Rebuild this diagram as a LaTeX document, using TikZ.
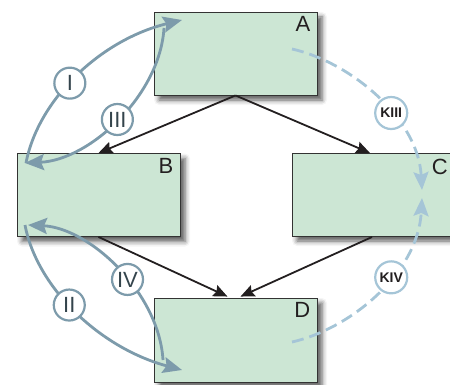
\documentclass[tikz,border=0pt]{standalone}
\usepackage{fontspec}
\setmainfont{Liberation Sans}
\usetikzlibrary{arrows.meta,shadows.blur,calc}
\definecolor{boxfill}{HTML}{CCE6D4}
\definecolor{boxline}{HTML}{333333}
\definecolor{flow}{HTML}{7D9BAB}
\definecolor{kflow}{HTML}{A5C5D7}
\definecolor{ink}{HTML}{231F20}
\definecolor{numeral}{HTML}{34444C}

\begin{document}
\begin{tikzpicture}[x=1pt,y=-1pt,
  stage/.style={draw=boxline, line width=0.9pt, fill=boxfill,
    minimum width=163pt, minimum height=83pt, inner sep=0pt,
    blur shadow={shadow xshift=5pt, shadow yshift=-5pt,
      shadow blur radius=5pt, shadow opacity=65}},
  tag/.style={font=\fontsize{22}{22}\selectfont, text=ink,
    anchor=north east, inner sep=0pt},
  main/.style={draw=ink, line width=1.8pt,
    -{Stealth[length=14pt,width=12pt,inset=2pt]}},
  cycle/.style={draw=flow, line width=2.8pt,
    -{Stealth[length=19pt,width=16pt,inset=3pt]}},
  kcycle/.style={draw=kflow, line width=2.8pt, dash pattern=on 12pt off 6pt,
    -{Stealth[length=18pt,width=15pt,inset=3pt]}},
  ring/.style={circle, draw=flow, line width=2.2pt, fill=white, solid,
    minimum size=31pt, inner sep=0pt, text=numeral,
    font=\fontsize{22}{22}\selectfont},
  kring/.style={circle, draw=kflow, line width=2.2pt, fill=white, solid,
    minimum size=32pt, inner sep=0pt, text=ink,
    font=\bfseries\fontsize{14}{14}\selectfont},
]
\useasboundingbox (0,0) rectangle (450,385);
\clip (0,0) rectangle (450,385);

% the four boxes
\node[stage] (A) at (235.5,53.5) {};
\node[stage] (B) at (98.5,195) {};
\node[stage, minimum width=170pt] (C) at (377,194.5) {};
\node[stage, minimum height=84pt] (D) at (235.5,340) {};

\node[tag] (At) at ($(A.north east)+(-7,5)$) {A};
\node[tag] (Bt) at ($(B.north east)+(-7,5)$) {B};
\node[tag] (Ct) at (448,159) {C};
\node[tag] (Dt) at ($(D.north east)+(-7,5)$) {D};

% main flow
\coordinate (d1) at ($(D.north)+(-8,-1)$);
\coordinate (d2) at ($(D.north)+(5,-1)$);
\coordinate (c1) at (372,237);
\coordinate (c0) at (370,153);
\draw[main] (A.south) -- (B.north);
\draw[main] (A.south) -- (c0);
\draw[main] (B.south) -- (d1);
\draw[main] (c1) -- (d2);

% cycles between the boxes
\coordinate (bI) at (26,163);
\coordinate (aI) at (182,20);
\coordinate (aIII) at (164,28);
\coordinate (bIII) at (25,163);
\coordinate (bII) at (25,225);
\coordinate (dII) at (182,370);
\coordinate (dIV) at (163,360);
\coordinate (bIV) at (28,225);

\draw[cycle] (bI) .. controls (38,100) and (100,40) .. (aI)
  node[ring, pos=0.45] (nI) {I};
\draw[cycle] (aIII) .. controls (160,95) and (90,160) .. (bIII)
  node[ring, pos=0.5] (nIII) {III};
\draw[cycle] (bII) .. controls (37,288) and (100,348) .. (dII)
  node[ring, pos=0.45] (nII) {II};
\draw[cycle] (dIV) .. controls (159,293) and (90,228) .. (bIV)
  node[ring, pos=0.43] (nIV) {IV};

% dashed side paths to C
\coordinate (aK) at (292,49);
\coordinate (cK3) at (422,190);
\coordinate (dK) at (292,342);
\coordinate (cK4) at (422,198);
\draw[kcycle] (aK) .. controls (350,62) and (418,118) .. (cK3)
  node[kring, pos=0.6] (nK3) {KIII};
\draw[kcycle] (dK) .. controls (350,329) and (418,273) .. (cK4)
  node[kring, pos=0.6] (nK4) {KIV};
\end{tikzpicture}
\end{document}
